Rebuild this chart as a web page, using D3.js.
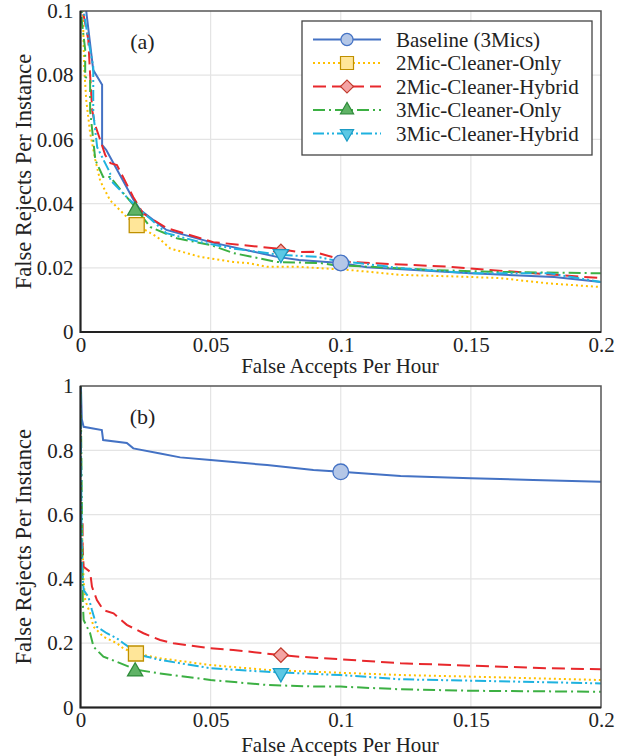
<!DOCTYPE html>
<html>
<head>
<meta charset="utf-8">
<script src="https://cdn.jsdelivr.net/npm/d3@7"></script>
<style>
body { margin: 0; background: #fff; }
</style>
</head>
<body>
<script>
var seriesNames = ['Baseline (3Mics)', '2Mic-Cleaner-Only', '2Mic-Cleaner-Hybrid', '3Mic-Cleaner-Only', '3Mic-Cleaner-Hybrid'];
var xTicks = [0, 0.05, 0.1, 0.15, 0.2];
var yTicksA = [0, 0.02, 0.04, 0.06, 0.08, 0.1];
var yTicksB = [0, 0.2, 0.4, 0.6, 0.8, 1];
var xLabels = ['0', '0.05', '0.1', '0.15', '0.2'];
var yLabelsA = ['0', '0.02', '0.04', '0.06', '0.08', '0.1'];
var yLabelsB = ['0', '0.2', '0.4', '0.6', '0.8', '1'];

// panel (a)
var aBaseline = [[0.0022, 0.105], [0.0022, 0.1], [0.0026, 0.0972], [0.0049, 0.0816], [0.0083, 0.077], [0.0083, 0.0583], [0.0099, 0.0567], [0.0141, 0.0505], [0.0204, 0.0411], [0.023, 0.038], [0.033, 0.0318], [0.05, 0.028], [0.0755, 0.0234], [0.084, 0.0224], [0.1, 0.0215], [0.11, 0.0202], [0.15, 0.0183], [0.182, 0.0171], [0.2, 0.0156]];
var a2MicOnly = [[0.0009, 0.105], [0.0011, 0.093], [0.0014, 0.0826], [0.0022, 0.0723], [0.0037, 0.062], [0.0057, 0.0536], [0.0076, 0.047], [0.0114, 0.041], [0.0178, 0.0358], [0.0216, 0.0333], [0.0295, 0.0296], [0.0345, 0.026], [0.046, 0.0234], [0.0587, 0.0218], [0.065, 0.0214], [0.0717, 0.0203], [0.084, 0.0203], [0.1036, 0.0193], [0.123, 0.0178], [0.148, 0.0172], [0.161, 0.0168], [0.179, 0.0152], [0.2, 0.014]];
var a2MicHybrid = [[0.0009, 0.105], [0.0009, 0.1], [0.003, 0.091], [0.0037, 0.08], [0.0045, 0.069], [0.0056, 0.0645], [0.0076, 0.0598], [0.0095, 0.0551], [0.0115, 0.0526], [0.014, 0.052], [0.0203, 0.042], [0.024, 0.037], [0.033, 0.0324], [0.051, 0.028], [0.0755, 0.026], [0.084, 0.0249], [0.0895, 0.025], [0.1036, 0.0218], [0.142, 0.0203], [0.174, 0.0183], [0.2, 0.0168]];
var a3MicOnly = [[0.0005, 0.105], [0.0005, 0.097], [0.0018, 0.0879], [0.0018, 0.0795], [0.0037, 0.0785], [0.0037, 0.069], [0.0049, 0.0598], [0.0057, 0.0536], [0.0087, 0.0483], [0.0114, 0.0483], [0.0164, 0.0433], [0.0203, 0.0396], [0.0268, 0.0327], [0.037, 0.0292], [0.05, 0.0271], [0.0587, 0.0246], [0.0755, 0.0218], [0.092, 0.0215], [0.097, 0.0209], [0.1355, 0.0193], [0.161, 0.0187], [0.2, 0.0183]];
var a3MicHybrid = [[0.0012, 0.105], [0.0012, 0.1], [0.003, 0.091], [0.0049, 0.0826], [0.0049, 0.0682], [0.0064, 0.0576], [0.0083, 0.0545], [0.0114, 0.0495], [0.0114, 0.0474], [0.0178, 0.042], [0.023, 0.038], [0.033, 0.0308], [0.046, 0.028], [0.0587, 0.026], [0.077, 0.024], [0.091, 0.0234], [0.097, 0.0224], [0.123, 0.0199], [0.15, 0.0183], [0.18, 0.0183], [0.2, 0.0156]];
var aMarkers = [[0.1, 0.0215], [0.0216, 0.0333], [0.077, 0.0251], [0.021, 0.0378], [0.077, 0.0243]];

// panel (b)
var bBaseline = [[0, 1.05], [0.0005, 0.897], [0.0012, 0.873], [0.0082, 0.863], [0.0087, 0.832], [0.0178, 0.823], [0.0203, 0.806], [0.0306, 0.79], [0.0383, 0.778], [0.05, 0.77], [0.0717, 0.754], [0.0895, 0.739], [0.1, 0.733], [0.123, 0.72], [0.15, 0.713], [0.174, 0.708], [0.2, 0.702]];
var b2MicOnly = [[0.0005, 0.573], [0.0012, 0.397], [0.0018, 0.334], [0.0037, 0.293], [0.005, 0.251], [0.0088, 0.22], [0.014, 0.2], [0.0164, 0.184], [0.0213, 0.168], [0.0306, 0.153], [0.05, 0.132], [0.0717, 0.117], [0.0909, 0.111], [0.1, 0.108], [0.123, 0.101], [0.15, 0.096], [0.2, 0.0855]];
var b2MicHybrid = [[0.0008, 0.573], [0.0008, 0.5], [0.0012, 0.438], [0.0037, 0.422], [0.0044, 0.376], [0.0063, 0.334], [0.0088, 0.303], [0.0127, 0.293], [0.0178, 0.257], [0.0242, 0.231], [0.0306, 0.21], [0.0357, 0.2], [0.05, 0.184], [0.0587, 0.179], [0.077, 0.163], [0.084, 0.158], [0.1, 0.15], [0.123, 0.1375], [0.15, 0.13], [0.18, 0.122], [0.2, 0.119]];
var b3MicOnly = [[0, 1.05], [0.0009, 0.324], [0.0012, 0.272], [0.0037, 0.231], [0.005, 0.189], [0.0088, 0.158], [0.014, 0.142], [0.0217, 0.117], [0.0306, 0.106], [0.05, 0.0855], [0.0717, 0.07], [0.0909, 0.065], [0.1, 0.065], [0.123, 0.0566], [0.15, 0.052], [0.2, 0.049]];
var b3MicHybrid = [[0, 1.05], [0.0005, 0.45], [0.0012, 0.365], [0.003, 0.345], [0.0044, 0.303], [0.0063, 0.251], [0.0101, 0.231], [0.014, 0.215], [0.0165, 0.2], [0.023, 0.163], [0.0306, 0.148], [0.05, 0.122], [0.0717, 0.111], [0.0909, 0.104], [0.1, 0.101], [0.123, 0.0877], [0.15, 0.0834], [0.2, 0.075]];
var bMarkers = [[0.1, 0.733], [0.0213, 0.168], [0.077, 0.163], [0.021, 0.112], [0.077, 0.107]];

var FONT = '"Liberation Serif", "Times New Roman", Times, serif';
var colors = ['#4472c4', '#ffc000', '#e8282c', '#3cb043', '#1fb2df'];
var fills = ['#b4c7e7', '#ffe699', '#f4a4a4', '#5fb366', '#5cc8e4'];
var strokes = ['#4472c4', '#bf9000', '#c0392b', '#2e8b3a', '#1b9bc4'];
var dashes = ['none', '2,3', '13,6', '12,4,2,4', '11,3,2,3,2,3'];
var symbols = [d3.symbolCircle, d3.symbolSquare, d3.symbolSquare, d3.symbolTriangle, d3.symbolTriangle];
var rotations = [0, 0, 45, 0, 180];
var sizes = [194, 225, 105, 100, 100];
var legendSizes = [115, 169, 85, 75, 75];

var svg = d3.select('body').append('svg').attr('width', 618).attr('height', 756);

var x = d3.scaleLinear().domain([0, 0.2]).range([80.5, 601]);

function drawPanel(top, bottom, yMax, yTicks, yLabels, lines, markers, tag, id, titleOff) {
    var y = d3.scaleLinear().domain([0, yMax]).range([bottom, top]);
    var g = svg.append('g');

    // grid
    g.selectAll('.vg').data(xTicks.slice(1, -1)).enter().append('line')
        .attr('x1', function(d) { return x(d); }).attr('x2', function(d) { return x(d); })
        .attr('y1', top).attr('y2', bottom)
        .attr('stroke', '#e4e4e4').attr('stroke-width', 1.2);
    g.selectAll('.hg').data(yTicks.slice(1, -1)).enter().append('line')
        .attr('y1', function(d) { return y(d); }).attr('y2', function(d) { return y(d); })
        .attr('x1', x(0)).attr('x2', x(0.2))
        .attr('stroke', '#e4e4e4').attr('stroke-width', 1.2);

    svg.append('clipPath').attr('id', id).append('rect')
        .attr('x', x(0)).attr('y', top).attr('width', x(0.2) - x(0)).attr('height', bottom - top);

    var line = d3.line()
        .x(function(d) { return x(d[0]); })
        .y(function(d) { return y(d[1]); });

    var plot = g.append('g').attr('clip-path', 'url(#' + id + ')');
    plot.selectAll('path.s').data(lines).enter().append('path')
        .attr('d', line)
        .attr('fill', 'none')
        .attr('stroke', function(d, i) { return colors[i]; })
        .attr('stroke-width', 2)
        .attr('stroke-dasharray', function(d, i) { return dashes[i]; });

    g.selectAll('path.m').data(markers).enter().append('path')
        .attr('d', function(d, i) { return d3.symbol().type(symbols[i]).size(sizes[i])(); })
        .attr('transform', function(d, i) { return 'translate(' + x(d[0]) + ',' + y(d[1]) + ') rotate(' + rotations[i] + ')'; })
        .attr('fill', function(d, i) { return fills[i]; })
        .attr('stroke', function(d, i) { return strokes[i]; })
        .attr('stroke-width', 1.3);

    // frame
    g.append('rect').attr('x', x(0)).attr('y', top).attr('width', x(0.2) - x(0)).attr('height', bottom - top)
        .attr('fill', 'none').attr('stroke', '#555').attr('stroke-width', 1.5);
    g.append('path').attr('d', 'M' + x(0) + ',' + top + 'V' + bottom + 'H' + x(0.2))
        .attr('fill', 'none').attr('stroke', '#222').attr('stroke-width', 2);

    // axes text
    var yAxis = d3.axisLeft(y).tickValues(yTicks).tickSize(0).tickPadding(7)
        .tickFormat(function(d, i) { return yLabels[i]; });
    var ya = g.append('g').attr('transform', 'translate(' + x(0) + ',0)').call(yAxis);
    ya.select('.domain').remove();
    ya.selectAll('text').style('font-family', FONT).style('font-size', '21px').attr('fill', '#222');

    var xAxis = d3.axisBottom(x).tickValues(xTicks).tickSize(0).tickPadding(5)
        .tickFormat(function(d, i) { return xLabels[i]; });
    var xa = g.append('g').attr('transform', 'translate(0,' + bottom + ')').call(xAxis);
    xa.select('.domain').remove();
    xa.selectAll('text').style('font-family', FONT).style('font-size', '21px').attr('fill', '#222');

    g.append('text').attr('x', 340).attr('y', bottom + titleOff)
        .attr('text-anchor', 'middle').style('font-family', FONT).style('font-size', '21px')
        .attr('fill', '#222').text('False Accepts Per Hour');
    g.append('text').attr('transform', 'translate(31,' + ((top + bottom) / 2) + ') rotate(-90)')
        .attr('text-anchor', 'middle').style('font-family', FONT).style('font-size', '22.5px')
        .attr('fill', '#222').text('False Rejects Per Instance');

    g.append('text').attr('x', 142.5).attr('y', top + 38).attr('text-anchor', 'middle')
        .style('font-family', FONT).style('font-size', '22px').attr('fill', '#222').text(tag);
    return g;
}

drawPanel(11, 332, 0.1, yTicksA, yLabelsA, [aBaseline, a2MicOnly, a2MicHybrid, a3MicOnly, a3MicHybrid], aMarkers, '(a)', 'clipA', 40.5);
drawPanel(386, 707.5, 1, yTicksB, yLabelsB, [bBaseline, b2MicOnly, b2MicHybrid, b3MicOnly, b3MicHybrid], bMarkers, '(b)', 'clipB', 44);

// legend
var lg = svg.append('g');
lg.append('rect').attr('x', 302).attr('y', 21).attr('width', 290).attr('height', 134)
    .attr('fill', '#fff').attr('stroke', '#444').attr('stroke-width', 1.3);
var items = lg.selectAll('g.item').data(seriesNames).enter().append('g')
    .attr('transform', function(d, i) { return 'translate(0,' + (39.5 + i * 23.5) + ')'; });
items.append('line').attr('x1', 313).attr('x2', 381).attr('y1', 0).attr('y2', 0)
    .attr('stroke', function(d, i) { return colors[i]; })
    .attr('stroke-width', 2)
    .attr('stroke-dasharray', function(d, i) { return dashes[i]; });
items.append('path')
    .attr('d', function(d, i) { return d3.symbol().type(symbols[i]).size(legendSizes[i])(); })
    .attr('transform', function(d, i) { return 'translate(347,0) rotate(' + rotations[i] + ')'; })
    .attr('fill', function(d, i) { return fills[i]; })
    .attr('stroke', function(d, i) { return strokes[i]; })
    .attr('stroke-width', 1.2);
items.append('text').attr('x', 396).attr('y', 0).attr('dy', '0.35em')
    .style('font-family', FONT).style('font-size', '21px').attr('fill', '#222')
    .text(function(d) { return d; });
</script>
</body>
</html>
